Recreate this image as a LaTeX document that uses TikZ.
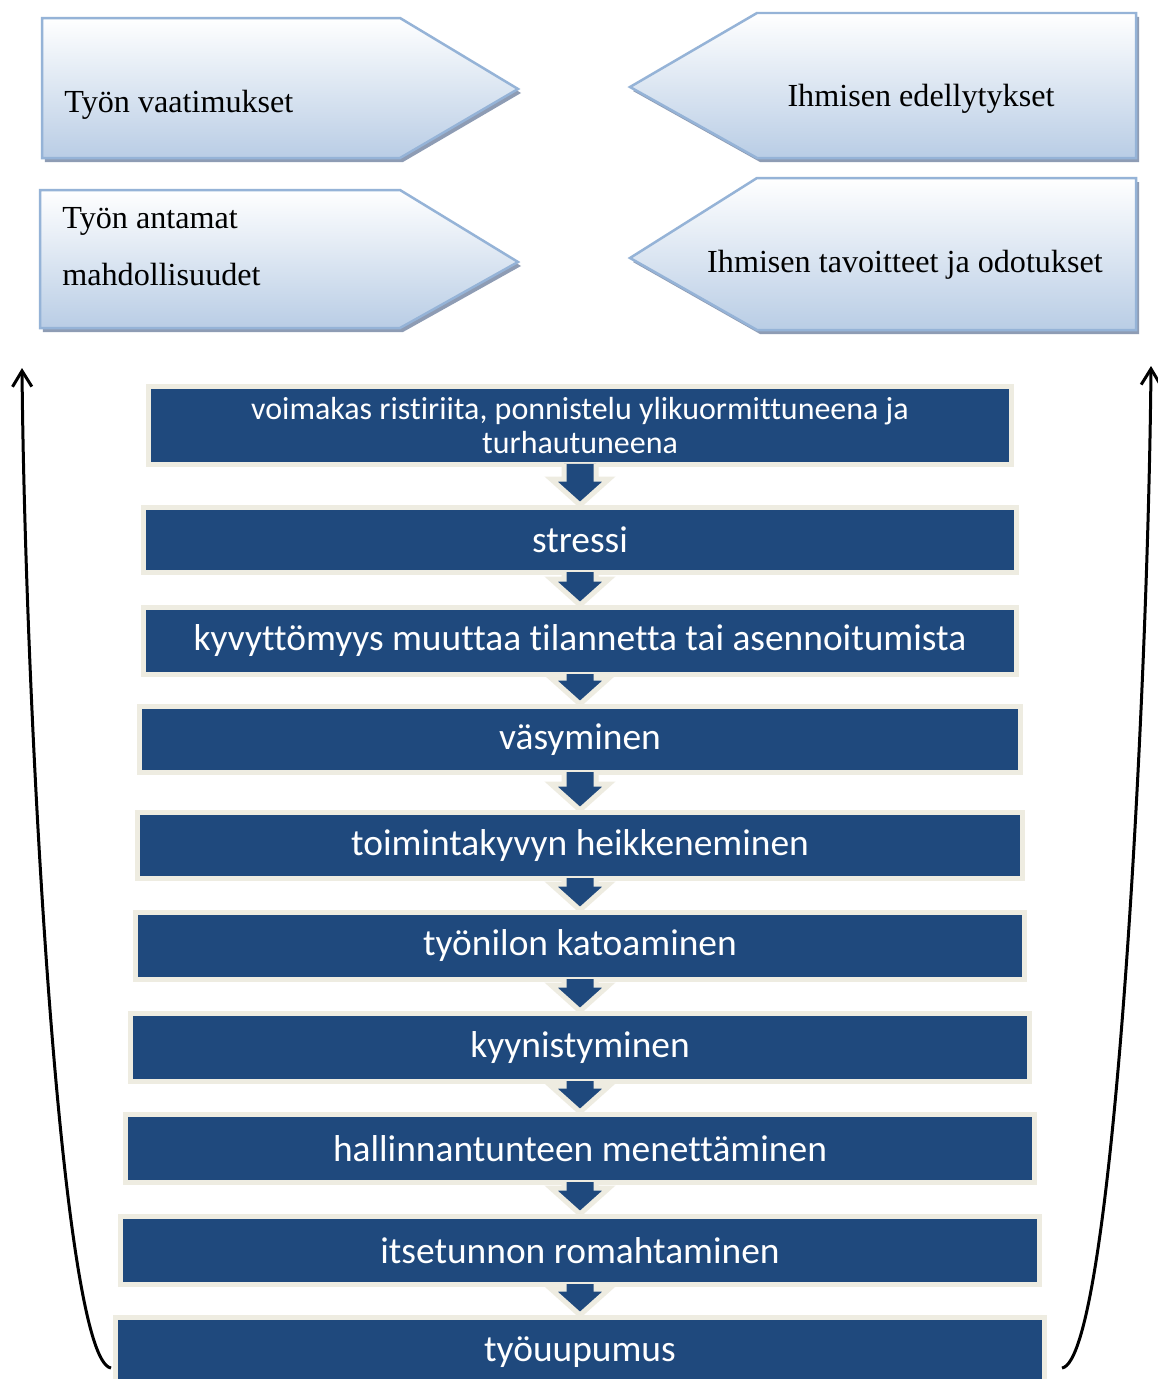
\documentclass[tikz,border=0pt]{standalone}
\usepackage{fontspec}
\setmainfont{Liberation Serif}
\newfontfamily\stagefont[Ligatures=NoCommon]{Carlito}
\usetikzlibrary{arrows.meta,calc,positioning,shadows}

\definecolor{stageblue}{HTML}{1F497D}
\definecolor{stagerim}{HTML}{EEECE1}
\definecolor{tagedge}{HTML}{95B3D7}
\definecolor{tagfill}{HTML}{B9CDE5}
\definecolor{tagshadow}{HTML}{8E9CB4}

\tikzset{
  tag/.style={draw=tagedge, line width=0.05cm, line join=miter,
              top color=white, bottom color=tagfill,
              drop shadow={shadow xshift=0.06cm, shadow yshift=-0.08cm,
                           fill=tagshadow, opacity=1}},
  tagtext/.style={inner sep=0, font=\fontsize{18.3}{22}\selectfont},
  stage/.style={rectangle, draw=stagerim, fill=stageblue, line width=0.1cm,
                inner sep=0, text=white, align=center,
                font=\stagefont\fontsize{21.3}{25}\selectfont},
  backarrow/.style={line width=0.06cm, -{Straight Barb[length=9pt,width=11pt]}}
}

% block arrow from one stage to the next
\newcommand{\stagearrow}[2]{%
  \filldraw[fill=stageblue, draw=stagerim, line width=0.1cm, line join=miter]
    ($(#1.south)+(-16,-3)$) -- ($(#2.north)+(-16,-26)$) -- ($(#2.north)+(-29,-26)$)
    -- (#2.north) -- ($(#2.north)+(29,-26)$) -- ($(#2.north)+(16,-26)$)
    -- ($(#1.south)+(16,-3)$);
}

\begin{document}
\begin{tikzpicture}[x=0.02cm, y=-0.02cm]
\path[use as bounding box, fill=white] (0,0) rectangle (1158,1379);

% work and person
\path[tag] (42,18) -- (400,18) -- (518,89) -- (400,158) -- (42,158) -- cycle;
\path[tag] (40,190) -- (400,190) -- (518,262) -- (400,328) -- (40,328) -- cycle;
\path[tag] (1136,13) -- (757,13) -- (630,87) -- (757,158) -- (1136,158) -- cycle;
\path[tag] (1136,178) -- (757,178) -- (630,258) -- (757,330) -- (1136,330) -- cycle;

\node[tagtext, anchor=base west] (vaatimukset) at (64,112) {Työn vaatimukset};
\node[tagtext, anchor=base west, align=left, font=\fontsize{18.3}{32.3}\selectfont]
  (mahdollisuudet) at (62,285) {Työn antamat\\mahdollisuudet};
\node[tagtext, anchor=base] (edellytykset) at (921,106) {Ihmisen edellytykset};
\node[tagtext, anchor=base] (tavoitteet) at (905,272) {Ihmisen tavoitteet ja odotukset};

% stages
\node[stage, minimum width=17.26cm, minimum height=1.56cm,
      font=\stagefont\fontsize{18.2}{19.3}\selectfont] (ristiriita) at (580,425.5)
  {voimakas ristiriita, ponnistelu ylikuormittuneena ja\\turhautuneena};
\node[stage, minimum width=17.46cm, minimum height=1.30cm] (stressi) at (580,540) {stressi};
\node[stage, minimum width=17.46cm, minimum height=1.34cm] (kyvyttomyys) at (580,641)
  {kyvyttömyys muuttaa tilannetta tai asennoitumista};
\node[stage, minimum width=17.62cm, minimum height=1.32cm] (vasyminen) at (580,739.5) {väsyminen};
\node[stage, minimum width=17.70cm, minimum height=1.32cm] (toimintakyky) at (580,845.5)
  {toimintakyvyn heikkeneminen};
\node[stage, minimum width=17.78cm, minimum height=1.34cm] (tyonilo) at (580,946) {työnilon katoaminen};
\node[stage, minimum width=17.98cm, minimum height=1.36cm] (kyynisyys) at (580,1047.5) {kyynistyminen};
\node[stage, minimum width=18.18cm, minimum height=1.36cm] (hallinta) at (580,1148.5)
  {hallinnantunteen menettäminen};
\node[stage, minimum width=18.38cm, minimum height=1.36cm] (itsetunto) at (580,1250.5)
  {itsetunnon romahtaminen};
\node[stage, minimum width=18.58cm, minimum height=1.38cm] (uupumus) at (580,1352) {työuupumus};

\stagearrow{ristiriita}{stressi}
\stagearrow{stressi}{kyvyttomyys}
\stagearrow{kyvyttomyys}{vasyminen}
\stagearrow{vasyminen}{toimintakyky}
\stagearrow{toimintakyky}{tyonilo}
\stagearrow{tyonilo}{kyynisyys}
\stagearrow{kyynisyys}{hallinta}
\stagearrow{hallinta}{itsetunto}
\stagearrow{itsetunto}{uupumus}

% back to the start
\coordinate (lfoot) at (111,1368);
\coordinate (ltop) at (22,368);
\coordinate (rfoot) at (1062,1368);
\coordinate (rtop) at (1151,366);
\draw[backarrow] (lfoot) .. controls (60,1360) and (25,700) .. (ltop);
\draw[backarrow] (rfoot) .. controls (1113,1360) and (1148,700) .. (rtop);
\end{tikzpicture}
\end{document}
